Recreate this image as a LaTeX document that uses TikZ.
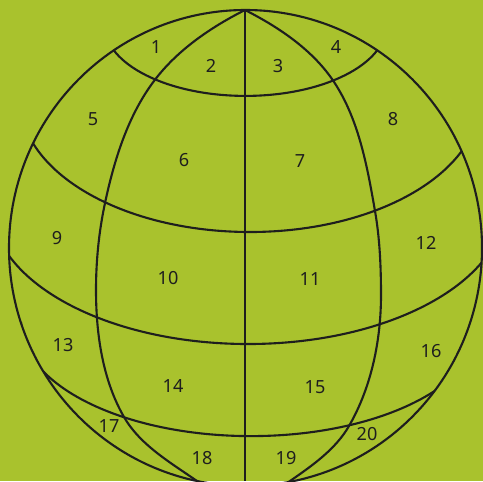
\documentclass[tikz,border=0pt]{standalone}
\usepackage{fontspec}
\setmainfont{Noto Sans}
\definecolor{leaf}{HTML}{A9C22D}
\definecolor{ink}{HTML}{1E1E1E}

\begin{document}
\begin{tikzpicture}[
    x = 0.02cm,
    y = -0.02cm,
    line/.style={
      draw = ink,
      line width = 1.2pt,
      line join = round,
    },
    num/.style={
      text = ink,
      font = \fontsize{10.3}{12}\selectfont,
      inner sep = 0pt,
    },
  ]
  \fill[leaf] (0,0) rectangle (483,481);
  \useasboundingbox (0,0) rectangle (483,481);
  \clip (0,0) rectangle (483,481);

  % poles and crossings
  \coordinate (globe) at (245.5,248);
  \coordinate (top) at (245,10);
  \coordinate (bot) at (245,481);
  \coordinate (mla) at (154,81);
  \coordinate (mlb) at (105,203);
  \coordinate (mlw) at (96,290);
  \coordinate (mld) at (124,417);
  \coordinate (mle) at (197,481);
  \coordinate (mra) at (332,79);
  \coordinate (mrb) at (375,211);
  \coordinate (mrw) at (381,295);
  \coordinate (mrd) at (349,426);
  \coordinate (mre) at (290,481);

  \begin{scope}
    \clip (globe) ellipse [x radius = 236.5, y radius = 238];

    % meridians
    \draw[line] (top) -- (bot);
    \draw[line] (top) .. controls (210.7,27.3) and (177.1,50.2) .. (mla)
      .. controls (127.7,116.0) and (114.2,160.1) .. (mlb)
      .. controls (98.9,231.6) and (96,260.8) .. (mlw)
      .. controls (96,333.3) and (102.4,379.5) .. (mld)
      .. controls (140.2,445.1) and (170.4,462.5) .. (mle)
      -- (217.5,495.3);
    \draw[line] (top) .. controls (277.9,26.7) and (310.9,48.7) .. (mra)
      .. controls (358.4,117) and (367.1,165.6) .. (mrb)
      .. controls (379.8,238.4) and (381,267) .. (mrw)
      .. controls (381,340) and (371.5,387) .. (mrd)
      .. controls (335.6,449.3) and (312.1,465.7) .. (mre)
      -- (269.5,495.3);

    % latitudes
    \begin{scope}[shift={(245.5,24.9)}]
      \clip (-300,0) rectangle (300,200);
      \draw[line] (0,0) ellipse [x radius = 141, y radius = 71];
    \end{scope}
    \begin{scope}[shift={(250,99)}]
      \clip (-300,0) rectangle (300,200);
      \draw[line] (0,0) ellipse [x radius = 230, y radius = 133];
    \end{scope}
    \begin{scope}[shift={(248,204.2)}]
      \clip (-300,0) rectangle (300,200);
      \draw[line] (0,0) ellipse [x radius = 257, y radius = 139.8];
    \end{scope}
    \begin{scope}[shift={(251,322.6)}]
      \clip (-300,0) rectangle (300,200);
      \draw[line] (0,0) ellipse [x radius = 230, y radius = 113.5];
    \end{scope}
  \end{scope}

  % outline
  \draw[line] (globe) ellipse [x radius = 236.5, y radius = 238];

  % labels
  \node[num] (n1) at (156,47) {1};
  \node[num] (n2) at (211,66) {2};
  \node[num] (n3) at (278,66) {3};
  \node[num] (n4) at (336,47) {4};
  \node[num] (n5) at (93,119) {5};
  \node[num] (n6) at (184,160) {6};
  \node[num] (n7) at (300,161) {7};
  \node[num] (n8) at (393,119) {8};
  \node[num] (n9) at (57,238) {9};
  \node[num] (n10) at (168,278) {10};
  \node[num] (n11) at (310,279) {11};
  \node[num] (n12) at (426,243) {12};
  \node[num] (n13) at (63,345) {13};
  \node[num] (n14) at (173,386) {14};
  \node[num] (n15) at (315,387) {15};
  \node[num] (n16) at (431,351) {16};
  \node[num] (n17) at (109,426) {17};
  \node[num] (n18) at (202,458) {18};
  \node[num] (n19) at (286,458) {19};
  \node[num] (n20) at (367,434) {20};
\end{tikzpicture}
\end{document}
